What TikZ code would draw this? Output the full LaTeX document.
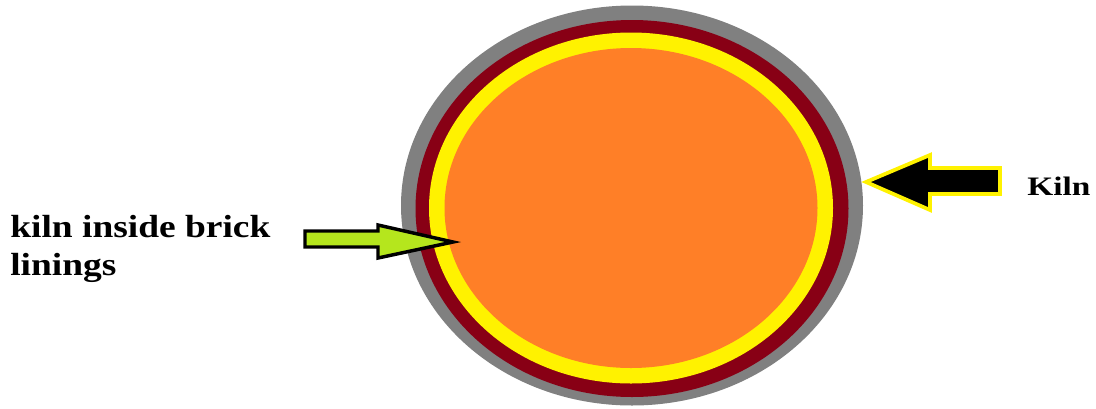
\documentclass[tikz,border=0pt]{standalone}
\usepackage{fontspec}
\setmainfont{Liberation Serif}
\definecolor{kgray}{HTML}{808080}
\definecolor{kred}{HTML}{880015}
\definecolor{kyellow}{HTML}{FFF200}
\definecolor{korange}{HTML}{FF7F27}
\definecolor{kgreen}{HTML}{B5E61D}
\tikzset{
  lbl/.style={font=\bfseries\fontsize{24}{28}\selectfont, inner sep=0pt, anchor=base west, xscale=1.17},
  kilnlbl/.style={font=\bfseries\fontsize{20}{24}\selectfont, inner sep=0pt, anchor=base west, xscale=1.25},
  greenarrow/.style={fill=kgreen, draw=black, line width=2.6pt, line join=miter},
  blackarrow/.style={fill=black, draw=kyellow, line width=2.8pt, line join=miter}
}
\begin{document}
\begin{tikzpicture}[x=0.75pt, y=-0.75pt]
\useasboundingbox (0,0) rectangle (1096,408);
% kiln layers
\fill[kgray]   (632,205.5) ellipse [x radius=231, y radius=200];
\fill[kred]    (632,208.5) ellipse [x radius=216.5, y radius=188.5];
\fill[kyellow] (631,208) ellipse [x radius=202, y radius=175.5];
\fill[korange] (631,208) ellipse [x radius=186.5, y radius=160];
% green arrow
\draw[greenarrow] (305,231) -- (378,231) -- (378,225) -- (453,242) -- (378,258) -- (378,247) -- (305,247) -- cycle;
% black arrow
\draw[blackarrow] (866,182) -- (930,155) -- (930,168) -- (1000,168) -- (1000,194) -- (930,194) -- (930,210) -- cycle;
% labels
\node[lbl] (t1) at (10,237) {kiln inside brick};
\node[lbl] (t2) at (10,275) {linings};
\node[kilnlbl] (k) at (1027,195) {Kiln};
\end{tikzpicture}
\end{document}
